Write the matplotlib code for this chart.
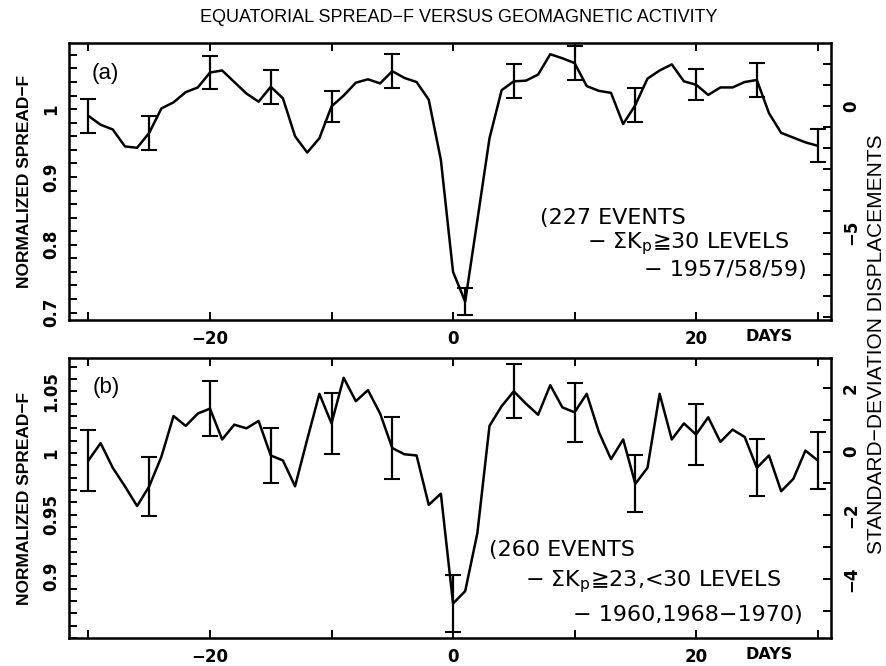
import matplotlib.pyplot as plt
from matplotlib.ticker import FixedLocator, FuncFormatter
import numpy as np

plt.rcParams['font.family'] = 'DejaVu Sans'
plt.rcParams['font.weight'] = 'bold'

# ---------------- data ----------------
days = np.arange(-30, 31)

# panel (a): 227 events, sum Kp >= 30, 1957/58/59
spread_a = [0.990, 0.977, 0.970, 0.945, 0.943, 0.965, 1.001, 1.010, 1.025, 1.032,
            1.054, 1.057, 1.040, 1.023, 1.011, 1.033, 1.016, 0.960, 0.936, 0.957,
            1.004, 1.020, 1.039, 1.044, 1.038, 1.056, 1.046, 1.040, 1.014, 0.925,
            0.760, 0.716, 0.836, 0.957, 1.028, 1.041, 1.042, 1.051, 1.081, 1.075,
            1.068, 1.034, 1.027, 1.024, 0.978, 1.006, 1.045, 1.057, 1.066, 1.041,
            1.036, 1.021, 1.032, 1.032, 1.040, 1.043, 0.994, 0.965, 0.958, 0.951,
            0.946]
err_days_a = [-30, -25, -20, -15, -10, -5, 1, 5, 10, 15, 20, 25, 30]
err_a = [0.025, 0.025, 0.025, 0.025, 0.023, 0.025, 0.020, 0.025, 0.025, 0.025,
         0.023, 0.025, 0.024]

# panel (b): 260 events, 23 <= sum Kp < 30, 1960, 1968-1970
spread_b = [0.994, 1.008, 0.988, 0.973, 0.957, 0.973, 0.997, 1.030, 1.022, 1.032,
            1.036, 1.011, 1.023, 1.020, 1.026, 0.998, 0.994, 0.973, 1.011, 1.048,
            1.024, 1.061, 1.042, 1.051, 1.032, 1.004, 0.999, 0.998, 0.958, 0.967,
            0.878, 0.888, 0.935, 1.022, 1.038, 1.050, 1.040, 1.031, 1.055, 1.037,
            1.033, 1.048, 1.017, 0.995, 1.011, 0.975, 0.988, 1.048, 1.011, 1.024,
            1.015, 1.029, 1.009, 1.019, 1.013, 0.988, 0.998, 0.969, 0.979, 1.002,
            0.994]
err_days_b = [-30, -25, -20, -15, -10, -5, 0, 5, 10, 15, 20, 25, 30]
err_b = [0.025, 0.024, 0.022, 0.022, 0.025, 0.025, 0.023, 0.022, 0.024, 0.023,
         0.025, 0.023, 0.023]

labelled_days = [-20, 0, 20]


def num(v, pos=None):
    return ('%g' % v).replace('-', '\u2212')


def day_label(v, pos=None):
    return num(v) if round(v) in labelled_days else ''


def style(ax, ylim, yticks, yminor, sd_lim, sd_ticks, sd_minor):
    ax.set_xlim(-31.6, 31.1)
    ax.set_ylim(*ylim)
    ax.xaxis.set_major_locator(FixedLocator(np.arange(-30, 31, 10)))
    ax.xaxis.set_major_formatter(FuncFormatter(day_label))
    ax.yaxis.set_major_locator(FixedLocator(yticks))
    ax.yaxis.set_minor_locator(FixedLocator(yminor))
    ax.yaxis.set_major_formatter(FuncFormatter(num))
    ax.tick_params(which='both', direction='in', width=1.4, labelsize=12)
    ax.tick_params(axis='x', top=True, length=6, pad=7)
    ax.tick_params(axis='y', which='major', length=6, pad=6, labelrotation=90)
    ax.tick_params(axis='y', which='minor', length=5.5)
    for lab in ax.get_yticklabels():
        lab.set_va('center')
    for s in ax.spines.values():
        s.set_linewidth(1.8)

    sd = ax.twinx()
    sd.set_ylim(*sd_lim)
    sd.yaxis.set_major_locator(FixedLocator(sd_ticks))
    sd.yaxis.set_minor_locator(FixedLocator(sd_minor))
    sd.yaxis.set_major_formatter(FuncFormatter(num))
    sd.tick_params(which='both', direction='in', width=1.4, labelsize=12)
    sd.tick_params(which='major', length=6, pad=8, labelrotation=90)
    sd.tick_params(which='minor', length=5.5)
    for lab in sd.get_yticklabels():
        lab.set_va('center')
    ax.text(26.05, -0.058, 'DAYS', transform=ax.get_xaxis_transform(),
            ha='center', va='center', fontsize=11.5)
    return sd


fig = plt.figure(figsize=(8.86, 6.66), dpi=100)
ax_a = fig.add_axes([0.0779, 0.5195, 0.860, 0.4164])
ax_b = fig.add_axes([0.0779, 0.0420, 0.860, 0.4204])

for ax, y, ed, ee in [(ax_a, spread_a, err_days_a, err_a),
                      (ax_b, spread_b, err_days_b, err_b)]:
    ax.plot(days, y, color='black', lw=1.8)
    idx = [list(days).index(d) for d in ed]
    ax.errorbar(ed, [y[i] for i in idx], yerr=ee, fmt='none', ecolor='black',
                elinewidth=1.6, capsize=5.5, capthick=1.5)

style(ax_a, (0.689, 1.098), [0.7, 0.8, 0.9, 1.0], np.arange(0.70, 1.10, 0.02),
      (-8.45, 2.49), [-5, 0], np.arange(-10, 3) * 5 / 6)
style(ax_b, (0.850, 1.077), [0.9, 0.95, 1.0, 1.05], np.arange(0.85, 1.08, 0.01),
      (-5.86, 2.94), [-4, -2, 0, 2], np.arange(-5, 3))

# panel labels and annotations
ax_a.text(-28.6, 1.053, '(a)', ha='center', va='center', fontsize=16,
          family='Liberation Sans', fontweight='normal')
ax_b.text(-28.5, 1.053, '(b)', ha='center', va='center', fontsize=16,
          family='Liberation Sans', fontweight='normal')

note = dict(ha='center', va='center', fontsize=16, fontweight='normal')
ax_a.text(13.15, 0.840, '(227 EVENTS', **note)
ax_a.text(19.3, 0.801, '\u2212 \u03a3K$_\\mathregular{p}$\u226730 LEVELS', **note)
ax_a.text(22.4, 0.763, '\u2212 1957/58/59)', **note)
ax_b.text(9.0, 0.921, '(260 EVENTS', **note)
ax_b.text(16.5, 0.896, '\u2212 \u03a3K$_\\mathregular{p}$\u226723,<30 LEVELS', **note)
ax_b.text(19.3, 0.869, '\u2212 1960,1968\u22121970)', **note)

# axis titles
fig.text(0.518, 1 - 17 / 666, 'EQUATORIAL SPREAD\u2212F VERSUS GEOMAGNETIC ACTIVITY',
         ha='center', va='center', fontsize=13, family='Liberation Sans',
         fontweight='normal')
for yc in (181, 498):
    fig.text(25 / 886, 1 - yc / 666, 'NORMALIZED SPREAD\u2212F', rotation=90,
             ha='center', va='center', fontsize=12.5, family='Liberation Sans')
fig.text(877 / 886, 1 - 344 / 666, 'STANDARD\u2212DEVIATION DISPLACEMENTS',
         rotation=90, ha='center', va='center', fontsize=15,
         family='Liberation Sans', fontweight='normal')

fig.savefig('out.png', dpi=100)
